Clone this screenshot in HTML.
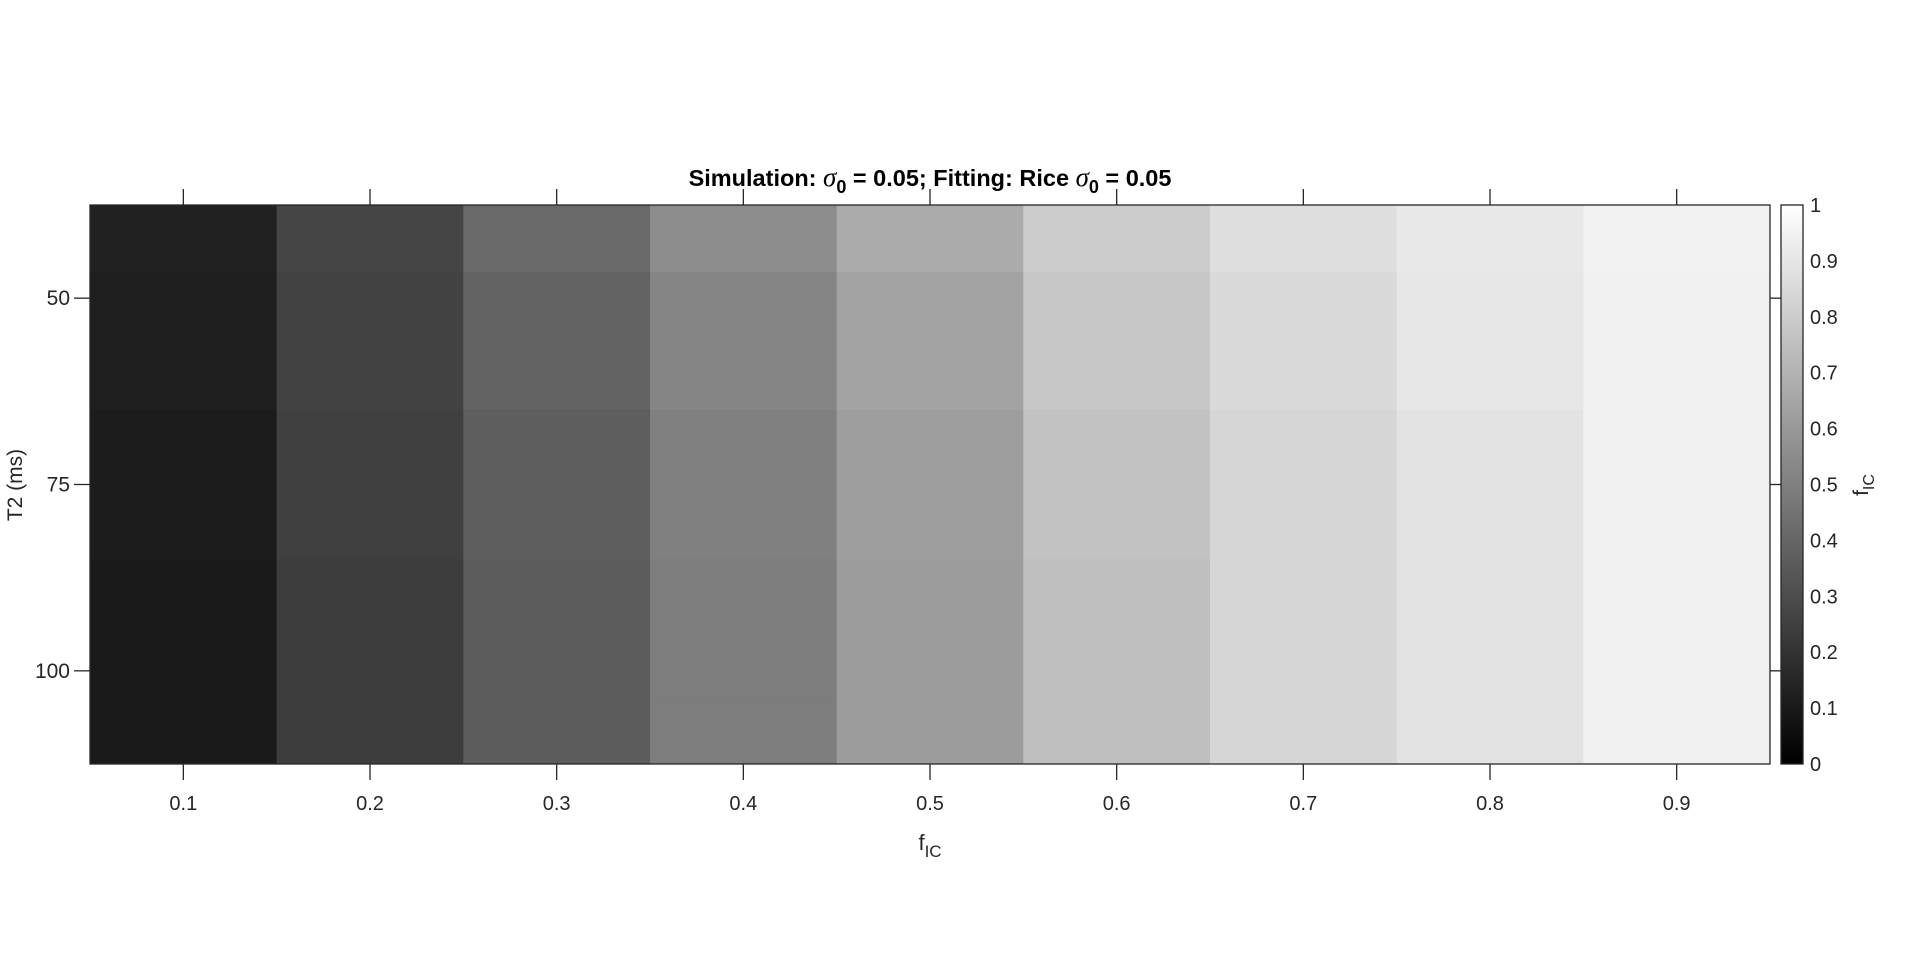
<!DOCTYPE html>
<html><head><meta charset="utf-8"><style>
html,body{margin:0;padding:0;background:#fff;}
svg{display:block;font-family:"Liberation Sans",Arial,sans-serif;}
</style></head><body>
<svg id="chart" width="1920" height="955" viewBox="0 0 1920 955" xmlns="http://www.w3.org/2000/svg">
<g id="cells"></g>
<rect x="90" y="205" width="1680" height="559" fill="none" stroke="#262626" stroke-width="1.3"/>
<g id="axes"></g>
<text x="930" y="186" text-anchor="middle" font-size="23.5" font-weight="bold" fill="#000">Simulation: <tspan font-family="Liberation Serif" font-style="italic" font-weight="normal" font-size="27">σ</tspan><tspan dy="7" font-size="18">0</tspan><tspan dy="-7"> = 0.05; Fitting: Rice </tspan><tspan font-family="Liberation Serif" font-style="italic" font-weight="normal" font-size="27">σ</tspan><tspan dy="7" font-size="18">0</tspan><tspan dy="-7"> = 0.05</tspan></text>
<text x="930" y="850" text-anchor="middle" font-size="22" fill="#262626">f<tspan dy="7" font-size="17">IC</tspan></text>
<text transform="translate(22,485) rotate(-90)" text-anchor="middle" font-size="21" fill="#262626">T2 (ms)</text>
<rect id="cbar" x="1781" y="205" width="22" height="559" fill="url(#cg)" stroke="#262626" stroke-width="1.3"/>
<defs><linearGradient id="cg" x1="0" y1="1" x2="0" y2="0"><stop offset="0" stop-color="#000"/><stop offset="1" stop-color="#fff"/></linearGradient></defs>
<text transform="translate(1868,485) rotate(-90)" text-anchor="middle" font-size="21" fill="#262626">f<tspan dy="6" font-size="16">IC</tspan></text>
</svg>
<script>
const bandCenters=[0.1,0.2,0.3,0.4,0.5,0.6,0.7,0.8,0.9];
const t2Levels=[38,55,75,95,112];
const bandMeans=[
[0.13,0.12,0.11,0.10,0.10],
[0.27,0.26,0.25,0.24,0.24],
[0.41,0.39,0.37,0.36,0.36],
[0.55,0.52,0.50,0.49,0.49],
[0.67,0.64,0.62,0.61,0.61],
[0.80,0.78,0.76,0.75,0.75],
[0.87,0.85,0.84,0.84,0.84],
[0.91,0.90,0.89,0.89,0.89],
[0.95,0.94,0.94,0.94,0.94]];
const xTicks=[0.1,0.2,0.3,0.4,0.5,0.6,0.7,0.8,0.9];
const yTicks=[50,75,100];
const cTicks=[0,0.1,0.2,0.3,0.4,0.5,0.6,0.7,0.8,0.9,1];
const X0=90,X1=1770,Y0=205,Y1=764;
const xs=v=>X0+(v-0.05)/0.9*(X1-X0);
const ys=v=>Y0+(v-37.5)/75*(Y1-Y0);
const cs=v=>Y1-v*(Y1-Y0);
const NS='http://www.w3.org/2000/svg';
const cells=document.getElementById('cells');
const axes=document.getElementById('axes');
function mk(t,a,p){const e=document.createElementNS(NS,t);for(const k in a)e.setAttribute(k,a[k]);p.appendChild(e);return e;}
bandCenters.forEach((c,i)=>{
  for(let j=0;j<t2Levels.length;j++){
    const top=j===0?37.5:(t2Levels[j-1]+t2Levels[j])/2;
    const bot=j===t2Levels.length-1?112.5:(t2Levels[j]+t2Levels[j+1])/2;
    const g=Math.round(bandMeans[i][j]*255);
    const r=mk('rect',{x:xs(c-0.05),y:ys(top),width:xs(c+0.05)-xs(c-0.05)+0.5,height:ys(bot)-ys(top)+0.5,fill:`rgb(${g},${g},${g})`},cells);
    
    
  }
});
xTicks.forEach(v=>{
  const x=xs(v);
  mk('line',{x1:x,x2:x,y1:Y1,y2:Y1+16,stroke:'#262626','stroke-width':1.3},axes);
  mk('line',{x1:x,x2:x,y1:Y0,y2:Y0-16,stroke:'#262626','stroke-width':1.3},axes);
  const t=mk('text',{x:x,y:Y1+46,'text-anchor':'middle','font-size':20,fill:'#262626'},axes);
  t.textContent=v.toFixed(1);
  
  
});
yTicks.forEach(v=>{
  const y=ys(v);
  mk('line',{x1:X0,x2:X0-16,y1:y,y2:y,stroke:'#262626','stroke-width':1.3},axes);
  mk('line',{x1:X1,x2:X1+11,y1:y,y2:y,stroke:'#262626','stroke-width':1.3},axes);
  const t=mk('text',{x:X0-20,y:y+7,'text-anchor':'end','font-size':21,fill:'#262626'},axes);
  t.textContent=v;
  
  
});
cTicks.forEach(v=>{
  const y=cs(v);
  mk('line',{x1:1803,x2:1797,y1:y,y2:y,stroke:'#262626','stroke-width':1},axes);
  const t=mk('text',{x:1810,y:y+7,'font-size':20,fill:'#262626'},axes);
  t.textContent=(v===0||v===1)?String(v):v.toFixed(1);
  
  
});
</script>
</body></html>
